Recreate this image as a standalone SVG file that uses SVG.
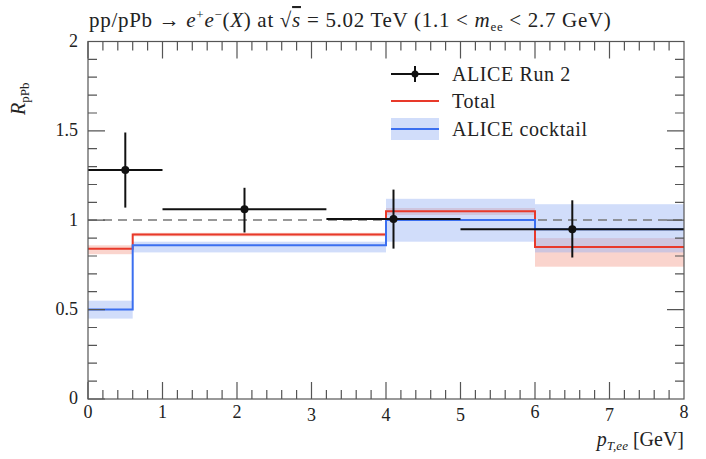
<svg xmlns="http://www.w3.org/2000/svg" width="706" height="459" viewBox="0 0 706 459">
<style>
text{font-family:"Liberation Serif","DejaVu Serif",serif;font-size:18px;fill:#222}
.it{font-style:italic}
.sm{font-size:13px}
.tk{stroke:#555;stroke-width:1.2}
.red{stroke:#e8392a;stroke-width:2;fill:none}
.blue{stroke:#3b6ff0;stroke-width:2;fill:none}
.rb{fill:#f4a090;fill-opacity:0.45}
.bb{fill:#99b3f5;fill-opacity:0.45}
.dat{stroke:#111;stroke-width:2}
.lg{font-size:20px;letter-spacing:0.6px}
</style>
<rect width="706" height="459" fill="#fff"/>
<g id="title"><text x="89" y="27" style="font-size:21px;letter-spacing:0.7px"><tspan>pp/pPb → </tspan><tspan class="it">e</tspan><tspan class="sm" dy="-8">+</tspan><tspan class="it" dy="8">e</tspan><tspan class="sm" dy="-8">−</tspan><tspan dy="8">(</tspan><tspan class="it">X</tspan>) at √<tspan class="it" text-decoration="overline">s</tspan> = 5.02 TeV (1.1 &lt; <tspan class="it">m</tspan><tspan class="sm" dy="4">ee</tspan><tspan dy="-4"> &lt; 2.7 GeV)</tspan></text></g>
<g id="bands">
<rect class="rb" x="88" y="245.3" width="44.7" height="8.9"/>
<rect class="rb" x="132.7" y="232.8" width="253.3" height="3.5"/>
<rect class="rb" x="386" y="208" width="149" height="7"/>
<rect class="rb" x="535" y="238.1" width="149" height="28.6"/>
<rect class="bb" x="88" y="300.7" width="44.7" height="17.9"/>
<rect class="bb" x="132.7" y="241.7" width="253.3" height="10.7"/>
<rect class="bb" x="386" y="198.8" width="149" height="42.9"/>
<rect class="bb" x="535" y="204.2" width="149" height="48.2"/>
</g>
<g id="connectors">
<line x1="88" y1="220" x2="684" y2="220" stroke="#777" stroke-width="1.6" stroke-dasharray="9,6"/>
<polyline class="red" points="88,248.8 132.7,248.8 132.7,234.6 386,234.6 386,211.3 535,211.3 535,247 684,247"/>
<polyline class="blue" points="88,309.6 132.7,309.6 132.7,245.3 386,245.3 386,220 535,220 535,229.2 684,229.2"/>
<g class="dat">
<line x1="88" y1="170" x2="162.5" y2="170"/><line x1="125.3" y1="132.5" x2="125.3" y2="207.6"/>
<line x1="162.5" y1="209.3" x2="326.4" y2="209.3"/><line x1="244.5" y1="187.8" x2="244.5" y2="232.5"/>
<line x1="326.4" y1="219.1" x2="460.5" y2="219.1"/><line x1="393.5" y1="189.6" x2="393.5" y2="248.6"/>
<line x1="460.5" y1="229.2" x2="684" y2="229.2"/><line x1="572.3" y1="200.3" x2="572.3" y2="257.5"/>
</g>
<g fill="#111"><circle cx="125.3" cy="170" r="4"/><circle cx="244.5" cy="209.3" r="4"/><circle cx="393.5" cy="219.1" r="4"/><circle cx="572.3" cy="229.2" r="4"/></g>
</g>
<g id="frame">
<rect x="88" y="41.5" width="596" height="357.5" fill="none" stroke="#555" stroke-width="1.2"/>
<path class="tk" d="M88,399v-17M162.5,399v-17M237,399v-17M311.5,399v-17M386,399v-17M460.5,399v-17M535,399v-17M609.5,399v-17M88,41.5v17M162.5,41.5v17M237,41.5v17M311.5,41.5v17M386,41.5v17M460.5,41.5v17M535,41.5v17M609.5,41.5v17M88,399h17M88,309.6h17M88,220.2h17M88,130.9h17M684,309.6h-17M684,220.2h-17M684,130.9h-17"/>
<path class="tk" d="M102.9,399v-9M117.8,399v-9M132.7,399v-9M147.6,399v-9M177.4,399v-9M192.3,399v-9M207.2,399v-9M222.1,399v-9M251.9,399v-9M266.8,399v-9M281.7,399v-9M296.6,399v-9M326.4,399v-9M341.3,399v-9M356.2,399v-9M371.1,399v-9M400.9,399v-9M415.8,399v-9M430.7,399v-9M445.6,399v-9M475.4,399v-9M490.3,399v-9M505.2,399v-9M520.1,399v-9M549.9,399v-9M564.8,399v-9M579.7,399v-9M594.6,399v-9M624.4,399v-9M639.3,399v-9M654.2,399v-9M669.1,399v-9M102.9,41.5v9M117.8,41.5v9M132.7,41.5v9M147.6,41.5v9M177.4,41.5v9M192.3,41.5v9M207.2,41.5v9M222.1,41.5v9M251.9,41.5v9M266.8,41.5v9M281.7,41.5v9M296.6,41.5v9M326.4,41.5v9M341.3,41.5v9M356.2,41.5v9M371.1,41.5v9M400.9,41.5v9M415.8,41.5v9M430.7,41.5v9M445.6,41.5v9M475.4,41.5v9M490.3,41.5v9M505.2,41.5v9M520.1,41.5v9M549.9,41.5v9M564.8,41.5v9M579.7,41.5v9M594.6,41.5v9M624.4,41.5v9M639.3,41.5v9M654.2,41.5v9M669.1,41.5v9M88,381.1h9M88,363.2h9M88,345.3h9M88,327.5h9M88,291.7h9M88,273.8h9M88,256h9M88,238.1h9M88,202.3h9M88,184.5h9M88,166.6h9M88,148.7h9M88,113h9M88,95.1h9M88,77.2h9M88,59.4h9M684,381.1h-9M684,363.2h-9M684,345.3h-9M684,327.5h-9M684,291.7h-9M684,273.8h-9M684,256h-9M684,238.1h-9M684,202.3h-9M684,184.5h-9M684,166.6h-9M684,148.7h-9M684,113h-9M684,95.1h-9M684,77.2h-9M684,59.4h-9"/>
</g>
<g id="ticklabels" text-anchor="middle">
<text x="88" y="418">0</text><text x="162.5" y="418">1</text><text x="237" y="418">2</text><text x="311.5" y="421">3</text><text x="386" y="421">4</text><text x="460.5" y="421">5</text><text x="535" y="418">6</text><text x="609.5" y="421">7</text><text x="684" y="418">8</text>
<g text-anchor="end"><text x="78" y="404">0</text><text x="78" y="315">0.5</text><text x="78" y="226">1</text><text x="78" y="136">1.5</text><text x="78" y="47">2</text></g>
</g>
<g id="axislabels">
<text x="684" y="446" text-anchor="end" style="font-size:20px"><tspan class="it">p</tspan><tspan class="it sm" dy="4">T,ee</tspan><tspan dy="-4"> [GeV]</tspan></text>
<text transform="translate(25,115) rotate(-90)" style="font-size:20px"><tspan class="it">R</tspan><tspan class="sm" dy="4">pPb</tspan></text>
</g>
<g id="legend">
<line x1="391" y1="74" x2="439" y2="74" stroke="#111" stroke-width="2"/><line x1="415" y1="66" x2="415" y2="82" stroke="#111" stroke-width="2"/><circle cx="415" cy="74" r="3.5" fill="#111"/>
<text class="lg" x="452" y="81">ALICE Run 2</text>
<line class="red" x1="391" y1="101" x2="439" y2="101"/>
<text class="lg" x="452" y="108">Total</text>
<rect class="bb" x="391" y="118" width="48" height="22"/><line class="blue" x1="391" y1="129" x2="439" y2="129"/>
<text class="lg" x="452" y="136">ALICE cocktail</text>
</g>
</svg>
